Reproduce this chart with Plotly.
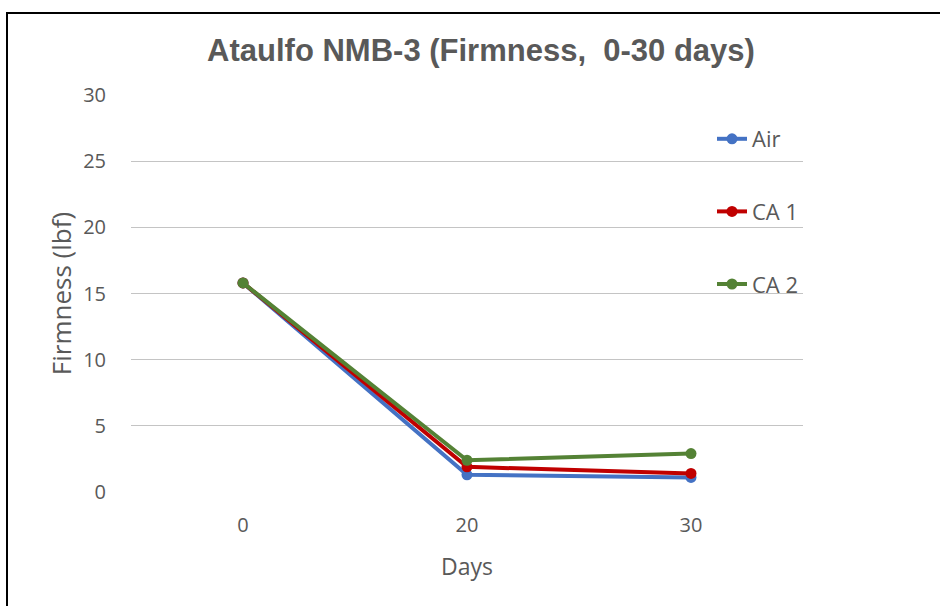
import plotly.graph_objects as go

# Storage days and firmness readings per atmosphere treatment
days = ["0", "20", "30"]
air = [15.8, 1.3, 1.1]
ca1 = [15.8, 1.9, 1.4]
ca2 = [15.8, 2.4, 2.9]

series = [
    ("Air", air, "#4472C4"),
    ("CA 1", ca1, "#C00000"),
    ("CA 2", ca2, "#548235"),
]

W, H = 940, 606
L, R, T, B = 131, 137, 95, 114
FONT = "Open Sans"
GREY = "#595959"

fig = go.Figure()
for i, (name, vals, color) in enumerate(series):
    fig.add_trace(go.Scatter(
        x=days, y=vals, name=name, mode="lines+markers",
        line=dict(color=color, width=4),
        marker=dict(color=color, size=11),
        legendgroup=f"g{i}",
    ))

pw = W - L - R
ph = H - T - B

fig.update_layout(
    width=W, height=H,
    margin=dict(l=L, r=R, t=T, b=B),
    paper_bgcolor="white", plot_bgcolor="white",
    font=dict(family=FONT, color=GREY, size=21),
    title=dict(
        text="<b>Ataulfo NMB-3 (Firmness,  0-30 days)</b>",
        x=481 / W, xanchor="center", y=1 - 50 / H, yanchor="middle",
        font=dict(size=31, color=GREY, family="Liberation Sans"),
    ),
    xaxis=dict(
        type="category", range=[-0.5, 2.5],
        showgrid=False, showline=False, zeroline=False,
        ticks="outside", ticklen=15, tickcolor="rgba(0,0,0,0)",
        tickfont=dict(size=20, color=GREY),
        title=dict(text="Days", font=dict(size=23, color=GREY), standoff=21),
    ),
    yaxis=dict(
        range=[0, 30], dtick=5,
        showgrid=True, gridcolor="#C4C4C4", gridwidth=1,
        zeroline=False, showline=False,
        ticks="outside", ticklen=20, tickcolor="rgba(0,0,0,0)",
        tickfont=dict(size=20, color=GREY),
        title=dict(text="Firmness (lbf)", font=dict(size=26, color=GREY), standoff=4),
    ),
    legend=dict(
        x=(712 - L) / pw, xanchor="left",
        y=(H - B - 118) / ph, yanchor="top",
        bgcolor="rgba(0,0,0,0)",
        font=dict(size=22, color=GREY, family=FONT),
        tracegroupgap=41, itemwidth=30,
    ),
    shapes=[dict(
        type="rect", xref="paper", yref="paper",
        x0=(7 - L) / pw, x1=1.5,
        y0=-0.6, y1=(H - B - 13) / ph,
        line=dict(color="black", width=2), fillcolor="rgba(0,0,0,0)",
        layer="below",
    )],
)

fig.write_html("out.html")
